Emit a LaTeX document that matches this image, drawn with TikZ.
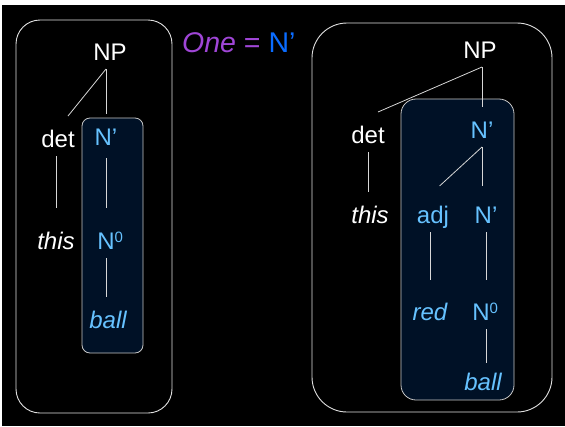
\documentclass[tikz,border=0pt]{standalone}
\usepackage{fontspec}
\setmainfont{Liberation Sans}
\definecolor{navybox}{RGB}{0, 17, 38}
\definecolor{skyblue1}{RGB}{102, 194, 255}
\definecolor{purple1}{RGB}{160, 70, 215}
\definecolor{blue1}{RGB}{10, 108, 255}
\definecolor{linegray}{RGB}{215, 215, 215}
\usepackage{tikz}
\usetikzlibrary{calc}
\newcommand{\nzero}{N\rlap{\raisebox{7pt}{\fontsize{15}{15}\selectfont 0}}}

\begin{document}
\begin{tikzpicture}[x=1pt, y=-1pt,
  lbl/.style={anchor=base, inner sep=0pt, outer sep=1pt, text height=30pt, text depth=8pt,
    font=\fontsize{24}{28}\selectfont, text=white},
  blu/.style={lbl, text=skyblue1},
  branch/.style={draw=linegray, line width=0.8pt},
  outerbox/.style={draw=white!88!black, line width=0.9pt},
  innerbox/.style={draw=white!78!black, fill=navybox, line width=0.8pt}]

  % Background
  \useasboundingbox (0,0) rectangle (565,426);
  \fill[white] (0,0) rectangle (565,426);
  \fill[black] (2,5) rectangle (565,426);

  % Title
  \node[anchor=base west, inner sep=0pt, font=\fontsize{28.5}{32}\selectfont] (title) at (182,52)
    {\textcolor{purple1}{\itshape One} \textcolor{purple1}{=} \textcolor{blue1}{N’}};

  % Left tree: boxes
  \draw[outerbox, rounded corners=24pt] (16,20) rectangle (172,413);
  \draw[innerbox, rounded corners=8pt] (82,118) rectangle (143,353);

  % Left tree: labels
  \node[lbl] (np1) at (110,60) {NP};
  \node[lbl] (det1) at (58,147) {det};
  \node[blu] (nb1) at (106,145) {N’};
  \node[lbl, font=\fontsize{24}{28}\selectfont\itshape] (this1) at (56,249) {this};
  \node[blu] (n01) at (106,249) {\nzero};
  \node[blu, font=\fontsize{24}{28}\selectfont\itshape] (ball1) at (108,328) {ball};

  % Left tree: branches
  \draw[branch] (nb1.north |- np1.south) -- ([xshift=10pt]det1.north);
  \draw[branch] (nb1.north |- np1.south) -- (nb1.north);
  \draw[branch, shorten >=10pt] (this1.north |- det1.south) -- (this1.north);
  \draw[branch, shorten >=10pt, shorten <=4pt] (nb1.south) -- (nb1.south |- n01.north);
  \draw[branch] (n01.south) -- (n01.south |- ball1.north);

  % Right tree: boxes
  \draw[outerbox, rounded corners=35pt] (312,23) rectangle (552,412);
  \draw[innerbox, rounded corners=15pt] (401,99) rectangle (514,400);

  % Right tree: labels
  \node[lbl] (np2) at (480,58) {NP};
  \node[lbl] (det2) at (368,143) {det};
  \node[blu] (nb2) at (482,138) {N’};
  \node[lbl, font=\fontsize{24}{28}\selectfont\itshape] (this2) at (370,223) {this};
  \node[blu] (adj2) at (433,223) {adj};
  \node[blu] (nb2b) at (486,223) {N’};
  \node[blu, font=\fontsize{24}{28}\selectfont\itshape] (red2) at (430,320) {red};
  \node[blu] (n02) at (481,320) {\nzero};
  \node[blu, font=\fontsize{24}{28}\selectfont\itshape] (ball2) at (483,390) {ball};

  % Right tree: branches
  \draw[branch] (nb2.north |- np2.south) -- ([xshift=10pt]det2.north);
  \draw[branch] (nb2.north |- np2.south) -- (nb2.north);
  \draw[branch] (det2.south) -- (det2.south |- this2.north);
  \draw[branch, shorten >=9pt] (nb2.south) -- (adj2.north);
  \draw[branch, shorten >=6pt] (nb2.south) -- (nb2.south |- nb2b.north);
  \draw[branch, shorten >=9pt] (red2.north |- adj2.south) -- (red2.north);
  \draw[branch, shorten >=9pt] (nb2b.south) -- (nb2b.south |- n02.north);
  \draw[branch, shorten >=-4pt] (n02.south -| nb2b) -- (ball2.north -| nb2b);
\end{tikzpicture}
\end{document}
